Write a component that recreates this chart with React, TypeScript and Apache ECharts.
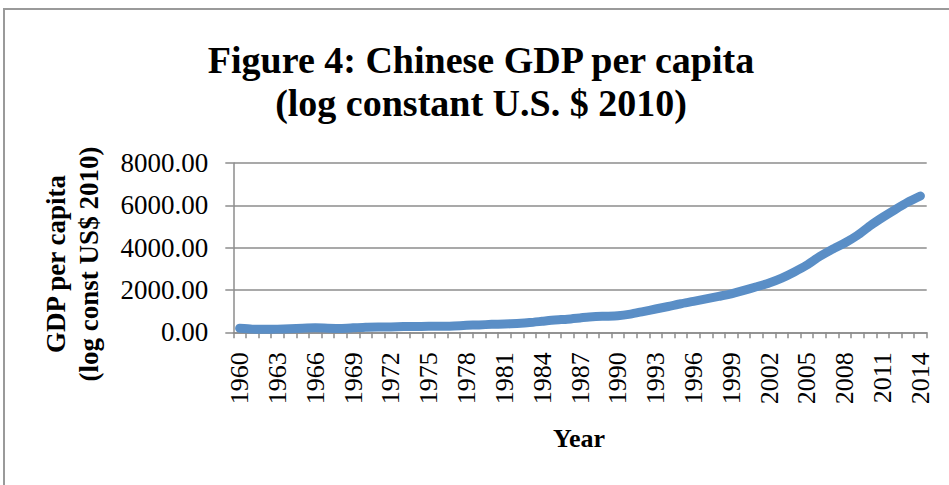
import React, { useEffect, useRef } from "react";
import * as echarts from "echarts";

const years: string[] = [];
for (let y = 1960; y <= 2014; y++) years.push(String(y));

const gdpPerCapita: number[] = [
  190, 150, 140, 150, 170, 195, 210, 195, 185, 210,
  240, 250, 255, 270, 272, 290, 282, 300, 330, 350,
  375, 390, 420, 460, 520, 580, 620, 680, 740, 760,
  780, 860, 980, 1100, 1220, 1350, 1460, 1580, 1700, 1820,
  1980, 2150, 2330, 2560, 2850, 3180, 3580, 3920, 4220, 4580,
  5030, 5430, 5800, 6150, 6440,
];

const titleLines = ["Figure 4: Chinese GDP per capita", "(log constant U.S. $ 2010)"];
const yNameLines = ["GDP per capita", "(log const US$ 2010)"];
const xName = "Year";

export default function App() {
  const ref = useRef<HTMLDivElement>(null);
  useEffect(() => {
    if (!ref.current) return;
    const chart = echarts.init(ref.current, null, { renderer: "svg" });
    const serif = "'Liberation Serif', 'Times New Roman', serif";
    const gray = "#8c8c8c";
    chart.setOption({
      animation: false,
      backgroundColor: "#ffffff",
      grid: { left: 233.3, right: 22.3, top: 163, bottom: 152.7, containLabel: false },
      xAxis: {
        type: "category",
        data: years,
        boundaryGap: true,
        axisLine: { show: true, lineStyle: { color: gray, width: 1.5 } },
        axisTick: { show: true, interval: 0, length: 6, lineStyle: { color: gray, width: 1.5 } },
        axisLabel: {
          interval: 2,
          rotate: 90,
          margin: 20,
          color: "#000",
          fontFamily: serif,
          fontSize: 26,
        },
        splitLine: { show: false },
      },
      yAxis: {
        type: "value",
        min: 0,
        max: 8000,
        interval: 2000,
        axisLine: { show: true, lineStyle: { color: gray, width: 1.5 } },
        axisTick: { show: true, length: 8, lineStyle: { color: gray, width: 1.5 } },
        axisLabel: {
          margin: 25,
          color: "#000",
          fontFamily: serif,
          fontSize: 27,
          formatter: (v: number) => v.toFixed(2),
        },
        splitLine: { show: true, lineStyle: { color: gray, width: 1.5 } },
      },
      series: [
        {
          type: "line",
          data: gdpPerCapita,
          showSymbol: false,
          symbol: "none",
          smooth: 0.2,
          lineStyle: { color: "#5A8EC6", width: 9, cap: "round", join: "round" },
          itemStyle: { color: "#5A8EC6" },
        },
      ],
      graphic: [
        {
          type: "rect",
          shape: { x: 4, y: 9, width: 1100, height: 700 },
          style: { fill: "none", stroke: "#9a9a9a", lineWidth: 2 },
          silent: true,
        },
        {
          type: "text",
          x: 481,
          y: 60,
          style: {
            text: titleLines[0],
            font: `bold 38px ${serif}`,
            fill: "#000",
            textAlign: "center",
            textVerticalAlign: "middle",
          },
        },
        {
          type: "text",
          x: 481,
          y: 103,
          style: {
            text: titleLines[1],
            font: `bold 38px ${serif}`,
            fill: "#000",
            textAlign: "center",
            textVerticalAlign: "middle",
          },
        },
        {
          type: "text",
          x: 56,
          y: 264,
          rotation: Math.PI / 2,
          style: {
            text: yNameLines[0],
            font: `bold 27px ${serif}`,
            fill: "#000",
            textAlign: "center",
            textVerticalAlign: "middle",
          },
        },
        {
          type: "text",
          x: 89,
          y: 264,
          rotation: Math.PI / 2,
          style: {
            text: yNameLines[1],
            font: `bold 27px ${serif}`,
            fill: "#000",
            textAlign: "center",
            textVerticalAlign: "middle",
          },
        },
        {
          type: "text",
          x: 579,
          y: 438,
          style: {
            text: xName,
            font: `bold 26px ${serif}`,
            fill: "#000",
            textAlign: "center",
            textVerticalAlign: "middle",
          },
        },
      ],
    });
    return () => chart.dispose();
  }, []);
  return (
    <div
      ref={ref}
      style={{ position: "absolute", left: 0, top: 0, width: 949, height: 485 }}
    />
  );
}
